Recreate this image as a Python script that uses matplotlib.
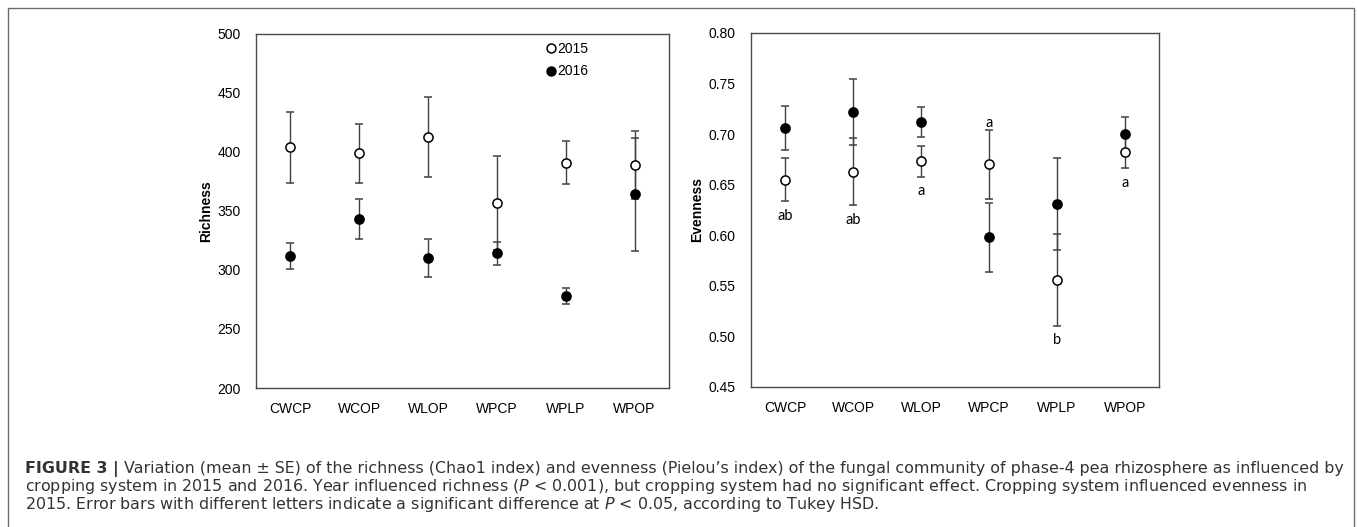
import matplotlib
matplotlib.use("Agg")
import matplotlib.pyplot as plt
from matplotlib.lines import Line2D
from matplotlib.patches import Rectangle
from matplotlib.ticker import FormatStrFormatter, MultipleLocator

# values
systems = ["CWCP", "WCOP", "WLOP", "WPCP", "WPLP", "WPOP"]

rich_2015 = [404, 399, 413, 357, 391, 389]
rich_2015_se = [30, 25, 34, 40, 18.5, 29]
rich_2016 = [312, 343, 310, 314, 278, 364]
rich_2016_se = [11, 17, 16, 10, 6.5, 47.5]

even_2015 = [0.655, 0.663, 0.673, 0.670, 0.556, 0.682]
even_2015_se = [0.0215, 0.033, 0.015, 0.034, 0.0455, 0.0155]
even_2016 = [0.706, 0.722, 0.712, 0.598, 0.631, 0.700]
even_2016_se = [0.022, 0.033, 0.015, 0.034, 0.0455, 0.0165]

letters_2015 = ["ab", "ab", "a", "a", "b", "a"]
letter_above = [False, False, False, True, False, False]

caption_lines = [
    " Variation (mean \u00b1 SE) of the richness (Chao1 index) and evenness (Pielou\u2019s index) "
    "of the fungal community of phase-4 pea rhizosphere as influenced by",
    "cropping system in 2015 and 2016. Year influenced richness ($P$ < 0.001), but cropping "
    "system had no significant effect. Cropping system influenced evenness in",
    "2015. Error bars with different letters indicate a significant difference at $P$ < 0.05, "
    "according to Tukey HSD.",
]

plt.rcParams["font.family"] = ["Liberation Sans", "DejaVu Sans"]
plt.rcParams["mathtext.fontset"] = "custom"
plt.rcParams["mathtext.rm"] = "DejaVu Sans"
plt.rcParams["mathtext.it"] = "DejaVu Sans:italic"

W, H = 1358, 527
fig = plt.figure(figsize=(W / 100, H / 100), dpi=100)

# outer frame of the figure panel
fig.patches.append(Rectangle((8 / W, -0.02), (1354 - 8) / W, 1 - 8 / H + 0.02,
                             transform=fig.transFigure, fill=False,
                             edgecolor="#6b6b6b", linewidth=1))

ax1 = fig.add_axes([256 / W, 1 - 388 / H, 413 / W, 354 / H])
ax2 = fig.add_axes([751 / W, 1 - 387 / H, 408 / W, 354 / H])

x = [i + 0.5 for i in range(len(systems))]
bar_color = "#404040"
err_kw = dict(fmt="o", ecolor=bar_color, elinewidth=1, capsize=2.6, capthick=1,
              markersize=6.6, markeredgewidth=1.1, markeredgecolor="black")

for ax, v15, e15, v16, e16 in [
    (ax1, rich_2015, rich_2015_se, rich_2016, rich_2016_se),
    (ax2, even_2015, even_2015_se, even_2016, even_2016_se),
]:
    ax.errorbar(x, v15, yerr=e15, markerfacecolor="white", zorder=3, **err_kw)
    ax.errorbar(x, v16, yerr=e16, markerfacecolor="black", zorder=3, **err_kw)
    ax.set_xlim(0, len(systems))
    ax.set_xticks(x)
    ax.set_xticklabels(systems)
    ax.tick_params(length=0, labelsize=10, colors="black")
    ax.tick_params(axis="y", pad=11)
    ax.tick_params(axis="x", pad=10)
    for sp in ax.spines.values():
        sp.set_color("#4a4a4a")
        sp.set_linewidth(1)

ax1.set_ylim(200, 500)
ax1.yaxis.set_major_locator(MultipleLocator(50))
ax1.set_ylabel("Richness", fontweight="bold", fontsize=10, labelpad=3)

ax2.set_ylim(0.45, 0.80)
ax2.yaxis.set_major_locator(MultipleLocator(0.05))
ax2.yaxis.set_major_formatter(FormatStrFormatter("%.2f"))
ax2.set_ylabel("Evenness", fontweight="bold", fontsize=10, labelpad=3)

handles = [
    Line2D([], [], ls="none", marker="o", markersize=6.4, markerfacecolor="white",
           markeredgecolor="black", markeredgewidth=1.1, label="2015"),
    Line2D([], [], ls="none", marker="o", markersize=6.4, markerfacecolor="black",
           markeredgecolor="black", markeredgewidth=1.1, label="2016"),
]
ax1.legend(handles=handles, loc="upper left", bbox_to_anchor=(0.70, 0.978), frameon=False,
           fontsize=10, handlelength=0.8, handletextpad=0.1, borderpad=0,
           borderaxespad=0, labelspacing=0.62)

# Tukey letters for 2015 evenness
for xi, m, e, lab, up in zip(x, even_2015, even_2015_se, letters_2015, letter_above):
    if up:
        ax2.annotate(lab, (xi, m + e), xytext=(0, 2.5), textcoords="offset points",
                     ha="center", va="baseline", fontsize=10.5, family="Lato")
    else:
        ax2.annotate(lab, (xi, m - e), xytext=(0, -5.5), textcoords="offset points",
                     ha="center", va="top", fontsize=10.5, family="Lato")

# caption, fitted to the width of the reference text block
cap_color = "#333333"
cap_font = "DejaVu Sans"
ys = [1 - 473 / H, 1 - 491 / H, 1 - 509 / H]
fs = 10
bold = fig.text(25 / W, ys[0], "FIGURE 3 |", fontweight="bold", fontsize=fs,
                color=cap_color, va="baseline", family=cap_font)
texts = [fig.text(25 / W, y, s, fontsize=fs, color=cap_color, va="baseline", family=cap_font)
         for y, s in zip(ys, caption_lines)]
renderer = fig.canvas.get_renderer()
w = bold.get_window_extent(renderer).width + texts[0].get_window_extent(renderer).width
fs = fs * (1336 - 25) / w
bold.set_fontsize(fs)
for t in texts:
    t.set_fontsize(fs)
bx = bold.get_window_extent(renderer)
texts[0].set_x((25 + bx.width) / W)

fig.savefig("out.png", dpi=100)
